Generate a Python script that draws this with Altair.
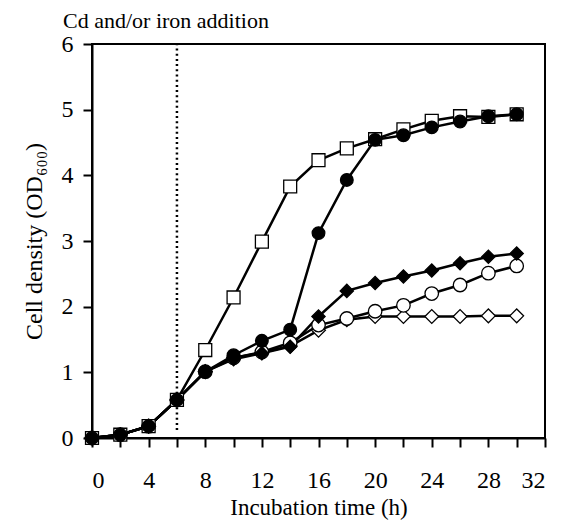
import altair as alt
import pandas as pd

times = [0, 2, 4, 6, 8, 10, 12, 14, 16, 18, 20, 22, 24, 26, 28, 30]
open_square = [0.0, 0.05, 0.18, 0.58, 1.34, 2.14, 2.99, 3.83, 4.23, 4.41, 4.55, 4.70, 4.83, 4.90, 4.89, 4.93]
filled_circle = [0.0, 0.05, 0.18, 0.58, 1.01, 1.26, 1.48, 1.65, 3.12, 3.93, 4.54, 4.61, 4.73, 4.82, 4.90, 4.93]
filled_diamond = [0.0, 0.05, 0.18, 0.58, 1.01, 1.20, 1.29, 1.39, 1.85, 2.24, 2.36, 2.46, 2.55, 2.66, 2.76, 2.81]
open_circle = [0.0, 0.05, 0.18, 0.58, 1.01, 1.22, 1.31, 1.45, 1.72, 1.82, 1.93, 2.02, 2.20, 2.33, 2.51, 2.62]
open_diamond = [0.0, 0.05, 0.18, 0.58, 1.01, 1.22, 1.30, 1.40, 1.64, 1.80, 1.85, 1.85, 1.85, 1.85, 1.86, 1.86]

series_names = ["open_diamond", "open_circle", "filled_diamond", "open_square", "filled_circle"]
series_values = [open_diamond, open_circle, filled_diamond, open_square, filled_circle]
series_shape = ["diamond", "circle", "diamond", "square", "circle"]
series_fill = ["white", "white", "black", "white", "black"]

x_tick_values = list(range(0, 34, 2))
y_tick_values = [0, 1, 2, 3, 4, 5, 6]

rows = []
for order, (name, vals) in enumerate(zip(series_names, series_values)):
    for t, v in zip(times, vals):
        rows.append({"time": t, "od": v, "series": name, "order": order})
df = pd.DataFrame(rows)

FONT = "Liberation Serif"

xs = alt.Scale(domain=[0, 32], nice=False, zero=False)
ys = alt.Scale(domain=[0, 6], nice=False)

x_axis = alt.Axis(values=x_tick_values, title="Incubation time (h)",
                  labelExpr="datum.value % 4 == 0 ? datum.label : ''",
                  labelPadding=21, titlePadding=4, titleFontSize=23)
y_axis = alt.Axis(values=y_tick_values, title="Cell density (OD₆₀₀)", format="d",
                  labelPadding=10, titlePadding=15)

base = alt.Chart(df)

lines = base.mark_line(color="black", strokeWidth=2.5).encode(
    x=alt.X("time:Q", scale=xs, axis=x_axis),
    y=alt.Y("od:Q", scale=ys, axis=y_axis),
    detail="series:N", order="time:Q")

points = base.mark_point(filled=True, stroke="black", strokeWidth=1.3, opacity=1).encode(
    x=alt.X("time:Q", scale=xs, axis=x_axis),
    y=alt.Y("od:Q", scale=ys, axis=y_axis),
    shape=alt.Shape("series:N", scale=alt.Scale(domain=series_names, range=series_shape), legend=None),
    fill=alt.Fill("series:N", scale=alt.Scale(domain=series_names, range=series_fill), legend=None),
    size=alt.Size("series:N", scale=alt.Scale(domain=series_names, range=[190, 160, 190, 185, 160]), legend=None),
    order="order:Q",
)

vline_df = pd.DataFrame({"x": [6], "y": [0.12], "y2": [6]})
vline = alt.Chart(vline_df).mark_rule(color="black", strokeWidth=2.5, strokeDash=[2, 3.2]).encode(
    x=alt.X("x:Q", scale=xs, axis=x_axis), y=alt.Y("y:Q", scale=ys, axis=y_axis), y2="y2:Q")

title_df = pd.DataFrame({"label": ["Cd and/or iron addition"]})
title = alt.Chart(title_df).mark_text(
    font=FONT, fontSize=22, align="left", baseline="alphabetic", color="black").encode(
    text="label:N", x=alt.value(-29), y=alt.value(-16))

chart = alt.layer(vline, lines, points, title).properties(
    width=453, height=394,
    autosize=alt.AutoSizeParams(type="none"),
    padding={"left": 84, "top": 36, "right": 12, "bottom": 86},
).configure_view(stroke="black", strokeWidth=2).configure_axis(
    grid=False, ticks=True, tickSize=9, tickWidth=2, tickColor="black",
    domain=True, domainWidth=2, domainColor="black",
    labelFont=FONT, labelFontSize=24, labelColor="black",
    titleFont=FONT, titleFontSize=24, titleFontWeight="normal", titleColor="black",
)

chart.save("out.html", embed_options={"renderer": "svg", "actions": False})
